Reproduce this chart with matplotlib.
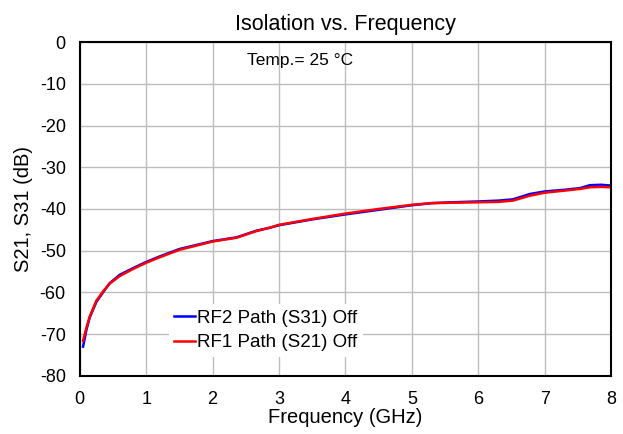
import numpy as np
import matplotlib.pyplot as plt

plt.rcParams['font.family'] = ['Liberation Sans', 'DejaVu Sans']
plt.rcParams['axes.unicode_minus'] = False

# Frequency points (GHz) and isolation (dB)
freq_rf2 = [0.05, 0.1, 0.15, 0.25, 0.35, 0.45, 0.6, 0.8, 1.0, 1.2, 1.5, 2.0, 2.36,
            2.66, 2.86, 3.0, 3.5, 4.0, 4.5, 5.0, 5.3, 5.6, 6.0, 6.3, 6.52, 6.78,
            7.0, 7.3, 7.53, 7.68, 7.85, 8.0]
s31_rf2 = [-73.0, -69.0, -66.0, -62.3, -60.0, -57.8, -55.8, -54.2, -52.7, -51.4,
           -49.6, -47.7, -46.8, -45.2, -44.5, -43.9, -42.5, -41.3, -40.2, -39.1,
           -38.6, -38.4, -38.2, -38.0, -37.7, -36.4, -35.8, -35.4, -35.0, -34.3,
           -34.2, -34.4]

freq_rf1 = [0.05, 0.1, 0.15, 0.25, 0.35, 0.45, 0.6, 0.8, 1.0, 1.2, 1.5, 2.0, 2.36,
            2.66, 2.86, 3.0, 3.5, 4.0, 4.5, 5.0, 5.3, 5.6, 6.0, 6.3, 6.52, 6.78,
            7.0, 7.3, 7.53, 7.68, 7.85, 8.0]
s21_rf1 = [-71.6, -68.5, -65.8, -62.0, -59.8, -57.9, -56.1, -54.4, -52.9, -51.6,
           -49.8, -47.8, -46.9, -45.3, -44.5, -43.8, -42.4, -41.1, -40.0, -39.0,
           -38.6, -38.5, -38.4, -38.3, -38.0, -36.8, -36.1, -35.6, -35.2, -34.8,
           -34.7, -34.8]

fig = plt.figure(figsize=(6.23, 4.34), dpi=100)
ax = fig.add_axes([0.128, 0.134, 0.853, 0.769])

ax.plot(freq_rf2, s31_rf2, color="#0000ff", lw=1.8, label="RF2 Path (S31) Off")
ax.plot(freq_rf1, s21_rf1, color="#ff0000", lw=1.8, label="RF1 Path (S21) Off")

ax.set_xlim(0, 8)
ax.set_ylim(-80, 0)
ax.set_xticks(np.arange(0, 9, 1))
ax.set_yticks(np.arange(-80, 1, 10))
ax.grid(True, color="#bdbdbd", lw=1)
ax.tick_params(axis="x", labelsize=13, length=0, pad=11)
ax.tick_params(axis="y", labelsize=13, length=0, pad=10)
for s in ax.spines.values():
    s.set_linewidth(1.5)

ax.set_xlabel("Frequency (GHz)", fontsize=14.5, labelpad=0)
ax.set_ylabel("S21, S31 (dB)", fontsize=14.5, labelpad=5)
ax.set_title("Isolation vs. Frequency", fontsize=15.5, pad=9)
ax.text(0.415, 0.946, "Temp.= 25 °C", transform=ax.transAxes, ha="center",
        va="center", fontsize=12.5)

leg = ax.legend(loc="lower left", bbox_to_anchor=(0.15, 0.028), fontsize=13.5,
                handlelength=1.1, handletextpad=0.1, labelspacing=0.4,
                frameon=True, fancybox=False, borderpad=0.3)
leg.get_frame().set_edgecolor("none")
leg.get_frame().set_facecolor("white")
leg.get_frame().set_alpha(1)

fig.savefig("out.png", dpi=100)
